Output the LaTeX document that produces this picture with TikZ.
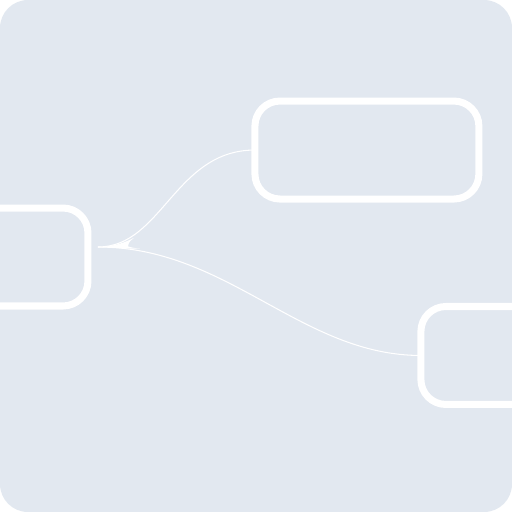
\documentclass[tikz,border=0pt]{standalone}
\usepackage{tikz}
\usetikzlibrary{positioning}
\definecolor{canvas}{RGB}{226,232,240}
\tikzset{
    box/.style={rectangle, draw=white, line width=4pt, rounded corners=0.5cm, outer sep=0pt, minimum width=4.48cm, minimum height=1.96cm},
    branch/.style={draw=white, line width=0.6pt}
}
\begin{document}
\begin{tikzpicture}[x=0.02cm, y=-0.02cm]

% Canvas
\useasboundingbox (0,0) rectangle (512,512);
\fill[white] (0,0) rectangle (512,512);
\fill[canvas, rounded corners=0.56cm] (0,0) rectangle (512,512);

% Boxes
\node[box] (root) at (-24,257) {};
\node[box] (upper) [right=3.34cm of root, yshift=2.14cm] {};
\node[box] (lower) [right=6.66cm of root, yshift=-1.97cm] {};

% Branches
\coordinate[right=0.2cm of root.east, yshift=0.2cm] (hub);
\fill[white] (hub) .. controls (115,246.5) and (126,242) .. (134,237.8)
    .. controls (129,242) .. (128,246.4)
    .. controls (132,247.6) .. (140,248.8)
    .. controls (120,248.2) .. (hub) -- cycle;
\draw[branch] (hub) .. controls +(64,0) and +(-80,0) .. (upper.west);
\draw[branch] (hub) .. controls +(130,0) and +(-120,0) .. (lower.west);

\end{tikzpicture}
\end{document}
